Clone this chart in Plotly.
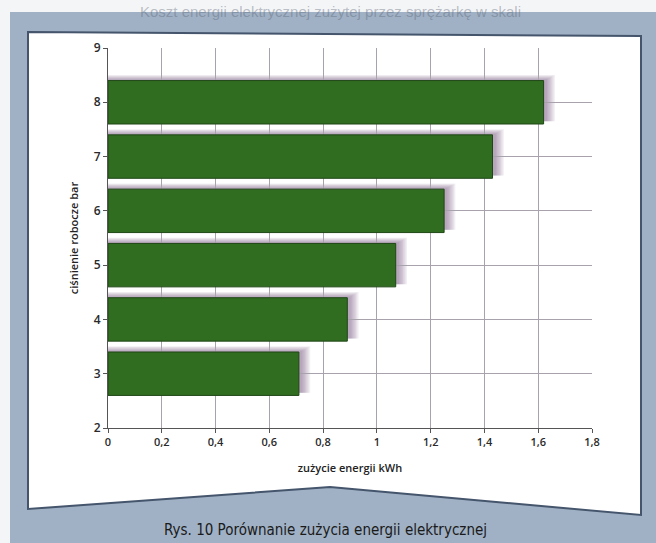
import plotly.graph_objects as go

# Working pressure (bar) and corresponding electrical energy use (kWh)
pressure_bar = [3, 4, 5, 6, 7, 8]
energy_kwh = [0.71, 0.89, 1.07, 1.25, 1.43, 1.62]
x_ticks = [0, 0.2, 0.4, 0.6, 0.8, 1.0, 1.2, 1.4, 1.6, 1.8]
y_ticks = [2, 3, 4, 5, 6, 7, 8, 9]

W, H = 656, 543
ML, MR, MT, MB = 108, 64, 48, 115
PW, PH = W - ML - MR, H - MT - MB


def px(x):
    return (x - ML) / PW


def py(y):
    return (H - MB - y) / PH


BAR_W = 0.8
GREEN = "#306d21"
FRAME_BLUE = "#a0b1c5"
BORDER = "#44556c"

fig = go.Figure()
fig.add_trace(go.Bar(
    x=energy_kwh, y=pressure_bar, orientation="h", width=BAR_W,
    marker=dict(color=GREEN, line=dict(color="#1f4716", width=1)),
    hoverinfo="x+y",
))

shapes = []
# page-coloured frame around the figure panel
shapes.append(dict(type="rect", xref="paper", yref="paper",
                   x0=px(10), x1=px(W + 5), y0=py(12), y1=py(H + 5),
                   fillcolor=FRAME_BLUE, line=dict(width=0), layer="below"))
# white panel with a chevron-shaped bottom edge
pts = [(28, 32), (641, 36), (641, 515), (330, 487), (28, 509)]
path = "M " + " L ".join(f"{px(a):.5f},{py(b):.5f}" for a, b in pts) + " Z"
shapes.append(dict(type="path", xref="paper", yref="paper", path=path,
                   fillcolor="white", line=dict(color=BORDER, width=2),
                   layer="below"))

# soft drop shadows and light glow around each bar
for p, v in zip(pressure_bar, energy_kwh):
    for k in range(7):
        gx = k * 0.005
        gy = k * 0.014
        shapes.append(dict(
            type="rect", xref="x", yref="y", layer="below",
            x0=0, x1=v + 0.012 + gx,
            y0=p - BAR_W / 2 + 0.05, y1=p + BAR_W / 2 + 0.02 + gy,
            fillcolor="rgba(110,75,120,0.085)", line=dict(width=0)))
    shapes.append(dict(
        type="rect", xref="x", yref="y", layer="below",
        x0=0, x1=v + 0.02, y0=p - BAR_W / 2 - 0.07, y1=p - BAR_W / 2,
        fillcolor="rgba(255,255,255,0.85)", line=dict(width=0)))

annotations = [
    dict(text="Rys. 10 Porównanie zużycia energii elektrycznej",
         xref="paper", yref="paper", x=px(325), y=py(530),
         showarrow=False, xanchor="center", yanchor="middle",
         font=dict(family="Liberation Sans Narrow, DejaVu Sans Condensed, sans-serif",
                   size=15, color="#1a1a1a")),
    dict(text="Koszt energii elektrycznej zużytej przez sprężarkę w skali",
         xref="paper", yref="paper", x=px(330), y=py(11),
         showarrow=False, xanchor="center", yanchor="middle",
         font=dict(family="Liberation Sans Narrow, sans-serif", size=15,
                   color="rgba(90,100,115,0.40)")),
]

fig.update_layout(
    width=W, height=H,
    margin=dict(l=ML, r=MR, t=MT, b=MB, pad=0),
    paper_bgcolor="#f4f5f7",
    plot_bgcolor="#e3e0e6",
    separators=", ",
    showlegend=False,
    bargap=0.2,
    shapes=shapes,
    annotations=annotations,
    font=dict(family="Open Sans, sans-serif", size=11, color="#333333"),
    xaxis=dict(
        range=[0, 1.8], tickvals=x_ticks, ticks="outside", ticklen=4,
        tickcolor="#555", showgrid=True, gridcolor="#a8a2ad", gridwidth=1,
        showline=True, linecolor="#555", linewidth=1, zeroline=False,
        title=dict(text="zużycie energii kWh", standoff=16,
                   font=dict(size=11, color="#222", weight=600)),
        tickfont=dict(size=11, color="#2a2a2a", weight=600),
    ),
    yaxis=dict(
        range=[2, 9], tickvals=y_ticks, ticks="outside", ticklen=4,
        tickcolor="#555", showgrid=True, gridcolor="#a8a2ad", gridwidth=1,
        showline=True, linecolor="#555", linewidth=1, zeroline=False,
        title=dict(text="ciśnienie robocze bar", standoff=12,
                   font=dict(size=11, color="#222", weight=600)),
        tickfont=dict(size=12, color="#2a2a2a", weight=600),
    ),
)

fig.write_html("out.html")
